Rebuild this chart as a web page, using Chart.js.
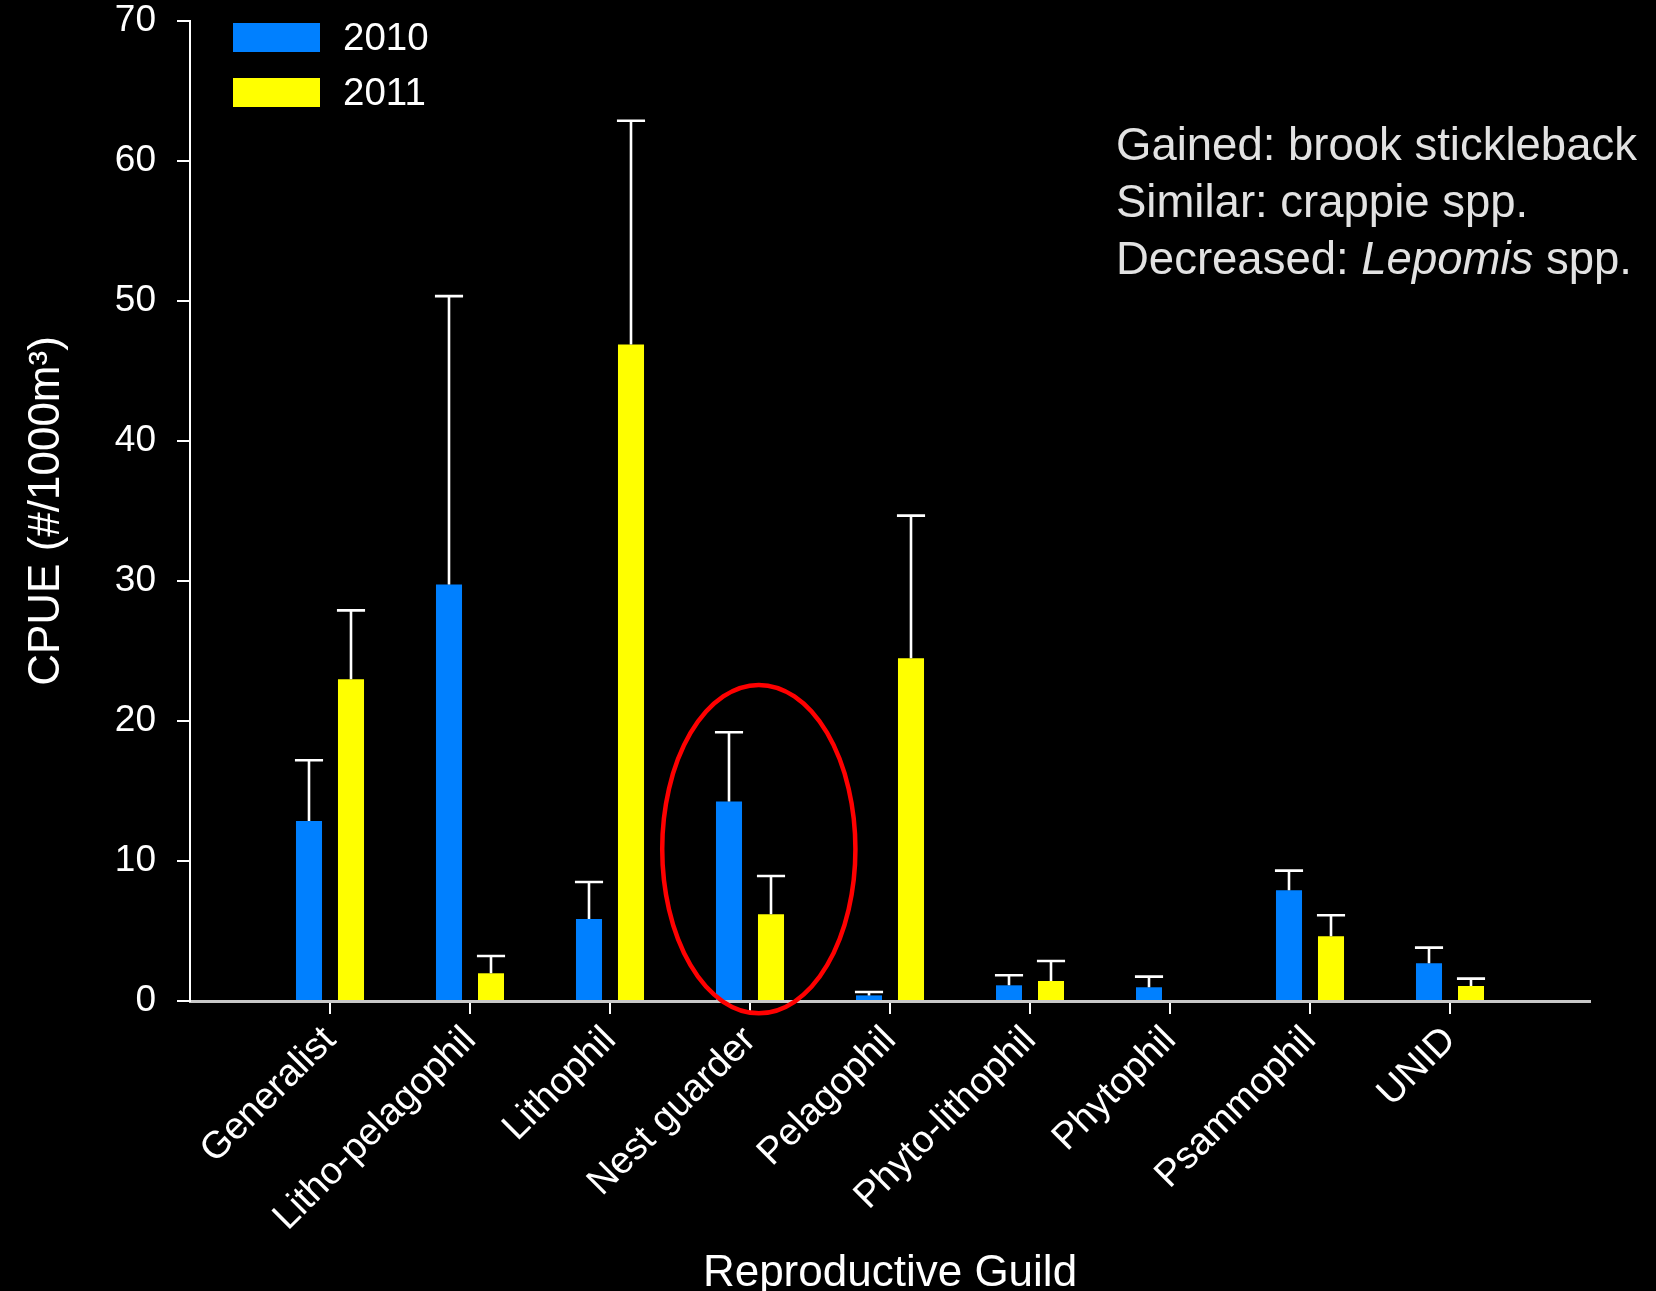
<!DOCTYPE html>
<html>
<head>
<meta charset="utf-8">
<title>CPUE by reproductive guild</title>
<script src="https://cdn.jsdelivr.net/npm/chart.js@4.4.1/dist/chart.umd.min.js"></script>
<style>
  html, body { margin: 0; padding: 0; background: #000; }
  #wrap { width: 1656px; height: 1291px; position: relative; }
</style>
</head>
<body>
<div id="wrap"><canvas id="chart"></canvas></div>
<script>
// Reproductive guilds on the x axis
const guilds = ['Generalist', 'Litho-pelagophil', 'Lithophil', 'Nest guarder', 'Pelagophil',
                'Phyto-lithophil', 'Phytophil', 'Psammophil', 'UNID'];

// Mean CPUE (#/1000 m3) and standard error, per year
const cpue2010 = [12.85, 29.75, 5.85, 14.25, 0.40, 1.12, 0.98, 7.91, 2.69];
const se2010   = [4.35, 20.60, 2.65, 4.95, 0.24, 0.72, 0.76, 1.40, 1.12];
const cpue2011 = [22.98, 1.98, 46.90, 6.19, 24.48, 1.43, 0, 4.62, 1.07];
const se2011   = [4.92, 1.23, 15.98, 2.74, 10.19, 1.43, 0, 1.50, 0.53];

const years = ['2010', '2011'];
const yTicks = [0, 10, 20, 30, 40, 50, 60, 70];

// Species notes shown in the upper right
const notes = [
  [{ t: 'Gained: brook stickleback' }],
  [{ t: 'Similar: crappie spp.' }],
  [{ t: 'Decreased: ' }, { t: 'Lepomis', italic: true }, { t: ' spp.' }]
];

// Guild that is circled for emphasis
const highlightGuild = 'Nest guarder';

const FONT = '"Liberation Sans", Arial, Helvetica, sans-serif';
Chart.defaults.font.family = FONT;

// One empty slot on each side so the guilds sit one category in from the axes
const labels = [''].concat(guilds, ['']);
const pad = arr => [null].concat(arr, [null]);

// Upper error bars drawn from the scale
const errorBars = {
  id: 'errorBars',
  afterDatasetsDraw(chart) {
    const ctx = chart.ctx;
    const y = chart.scales.y;
    ctx.save();
    ctx.strokeStyle = '#ffffff';
    ctx.lineWidth = 2.6;
    chart.data.datasets.forEach((ds, i) => {
      const meta = chart.getDatasetMeta(i);
      meta.data.forEach((bar, j) => {
        const v = ds.data[j];
        const e = ds.errors[j];
        if (v == null || !e) return;
        const top = y.getPixelForValue(v + e);
        const half = bar.width * 0.54;
        ctx.beginPath();
        ctx.moveTo(bar.x, bar.y);
        ctx.lineTo(bar.x, top);
        ctx.moveTo(bar.x - half, top);
        ctx.lineTo(bar.x + half, top);
        ctx.stroke();
      });
    });
    ctx.restore();
  }
};

// Red ellipse around the highlighted guild, sized in scale units
const highlight = {
  id: 'highlight',
  afterDraw(chart) {
    const xs = chart.scales.x, ys = chart.scales.y;
    const idx = labels.indexOf(highlightGuild);
    const cat = xs.getPixelForValue(1) - xs.getPixelForValue(0);
    const cx = xs.getPixelForValue(idx) + 0.063 * cat;
    const rx = 0.69 * cat;
    const cy = ys.getPixelForValue(10.85);
    const ry = Math.abs(ys.getPixelForValue(10.85 + 11.73) - cy);
    const ctx = chart.ctx;
    ctx.save();
    ctx.strokeStyle = '#ff0000';
    ctx.lineWidth = 4.5;
    ctx.beginPath();
    ctx.ellipse(cx, cy, rx, ry, 0, 0, Math.PI * 2);
    ctx.stroke();
    ctx.restore();
  }
};

// Legend inside the plot, top left
const insideLegend = {
  id: 'insideLegend',
  afterDraw(chart) {
    const ctx = chart.ctx;
    const area = chart.chartArea;
    ctx.save();
    chart.data.datasets.forEach((ds, i) => {
      const bx = area.left + 43;
      const by = area.top + 2 + i * 55;
      ctx.fillStyle = ds.backgroundColor;
      ctx.fillRect(bx, by, 87, 29);
      ctx.fillStyle = '#ffffff';
      ctx.font = '38.5px ' + FONT;
      ctx.textBaseline = 'middle';
      ctx.textAlign = 'left';
      ctx.fillText(ds.label, bx + 110, by + 16);
    });
    ctx.restore();
  }
};

// Species notes, upper right
const notesText = {
  id: 'notesText',
  afterDraw(chart) {
    const ctx = chart.ctx;
    const area = chart.chartArea;
    ctx.save();
    ctx.fillStyle = '#e2e2e2';
    ctx.textBaseline = 'alphabetic';
    ctx.textAlign = 'left';
    notes.forEach((line, i) => {
      let x = area.right - 474;
      const y = area.top + 139 + i * 57;
      line.forEach(seg => {
        ctx.font = (seg.italic ? 'italic ' : '') + '45.5px ' + FONT;
        ctx.fillText(seg.t, x, y);
        x += ctx.measureText(seg.t).width;
      });
    });
    ctx.restore();
  }
};

const inner = ctx => ctx.index > 0 && ctx.index < labels.length - 1;

new Chart(document.getElementById('chart'), {
  type: 'bar',
  data: {
    labels: labels,
    datasets: [
      { label: years[0], data: pad(cpue2010), errors: pad(se2010), backgroundColor: '#0080ff',
        categoryPercentage: 0.6, barPercentage: 0.62 },
      { label: years[1], data: pad(cpue2011), errors: pad(se2011), backgroundColor: '#ffff00',
        categoryPercentage: 0.6, barPercentage: 0.62 }
    ]
  },
  options: {
    responsive: true,
    maintainAspectRatio: false,
    animation: false,
    devicePixelRatio: 1,
    layout: { padding: { top: 0, right: 66, left: 0, bottom: 0 } },
    plugins: {
      legend: { display: false },
      tooltip: { enabled: false }
    },
    scales: {
      x: {
        type: 'category',
        offset: false,
        grid: {
          display: true,
          offset: false,
          drawOnChartArea: false,
          drawTicks: true,
          tickLength: 13,
          lineWidth: 2,
          tickColor: ctx => inner(ctx) ? '#ffffff' : 'rgba(0,0,0,0)',
          color: ctx => inner(ctx) ? '#ffffff' : 'rgba(0,0,0,0)'
        },
        border: { display: true, color: '#c8c8c8', width: 3 },
        ticks: {
          color: '#ffffff',
          font: { size: 38 },
          minRotation: 45,
          maxRotation: 45,
          autoSkip: false,
          padding: 4
        },
        title: {
          display: true,
          text: 'Reproductive Guild',
          color: '#ffffff',
          font: { size: 44, lineHeight: 1 },
          padding: { top: 0, bottom: -4.5 }
        },
        afterFit: s => { s.height = 290; }
      },
      y: {
        min: 0,
        max: 70,
        afterBuildTicks: s => { s.ticks = yTicks.map(v => ({ value: v })); },
        grid: {
          display: true,
          drawOnChartArea: false,
          drawTicks: true,
          tickLength: 13,
          lineWidth: 2,
          color: '#ffffff'
        },
        border: { display: true, color: '#ffffff', width: 2 },
        ticks: {
          color: '#ffffff',
          font: { size: 37 },
          padding: 21
        },
        title: {
          display: true,
          text: 'CPUE (#/1000m³)',
          color: '#ffffff',
          font: { size: 44, lineHeight: 1 },
          padding: { top: 25, bottom: 0 }
        },
        afterFit: s => { s.width = 190; s.paddingTop = 21; s.paddingBottom = 0; }
      }
    }
  },
  plugins: [errorBars, highlight, insideLegend, notesText]
});
</script>
</body>
</html>
